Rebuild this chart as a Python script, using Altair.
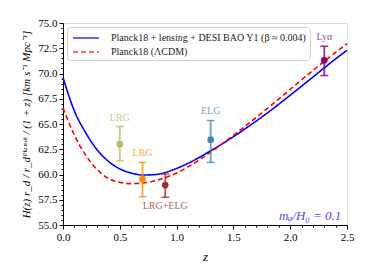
import altair as alt
import pandas as pd

# curve samples
z_curve = [0.0, 0.1, 0.2, 0.3, 0.4, 0.5, 0.6, 0.7, 0.8, 0.9, 1.0, 1.1, 1.2, 1.3, 1.4, 1.6, 1.8, 2.0, 2.2, 2.4, 2.5]
blue_vals = [69.6, 66.3, 64.13, 62.45, 61.3, 60.55, 60.15, 59.95, 59.98, 60.2, 60.6, 61.1, 61.7, 62.35, 63.02, 64.5, 66.1, 67.85, 69.65, 71.45, 72.3]
red_vals = [66.6, 63.9, 61.9, 60.5, 59.6, 59.22, 59.1, 59.15, 59.35, 59.68, 60.15, 60.75, 61.45, 62.22, 63.03, 64.75, 66.55, 68.43, 70.3, 72.1, 72.95]
series_names = ["Planck18 + lensing + DESI BAO Y1 (β ≈ 0.004)", "Planck18 (ΛCDM)"]

# DESI points
pt_z = [0.5, 0.7, 0.9, 1.3, 2.3]
pt_val = [63.0, 59.55, 58.95, 63.45, 71.3]
pt_lo = [61.35, 57.8, 57.75, 61.2, 69.8]
pt_hi = [64.75, 61.2, 60.05, 65.35, 72.7]
pt_label = ["LRG", "LRG", "LRG+ELG", "ELG", "Lyα"]
pt_color = ["#bdb76b", "#ff8c00", "#a52a2a", "#4a84b8", "#800080"]
pt_label_pos = ["above", "above", "below", "above", "above"]

annot_text = ["mᵩ/H₀ = 0.1"]
annot_z = [2.45]
annot_v = [55.9]

x_ticks = [round(0.1 * i, 1) for i in range(26)]
y_ticks = [55 + 0.5 * i for i in range(41)]

SERIF = "Liberation Serif"

curve_df = pd.DataFrame({
    "z": z_curve * 2,
    "v": blue_vals + red_vals,
    "s": [series_names[0]] * len(z_curve) + [series_names[1]] * len(z_curve),
})
pts_df = pd.DataFrame({
    "z": pt_z, "v": pt_val, "lo": pt_lo, "hi": pt_hi, "lab": pt_label,
    "c": pt_color, "pos": pt_label_pos,
})
pts_df["ly"] = [h if p == "above" else l for h, l, p in zip(pt_hi, pt_lo, pt_label_pos)]
ann_df = pd.DataFrame({"z": annot_z, "v": annot_v, "t": annot_text})

xmajor = "abs(datum.value/0.5 - round(datum.value/0.5)) < 0.001"
ymajor = "abs(datum.value/2.5 - round(datum.value/2.5)) < 0.001"

x_axis = alt.Axis(values=x_ticks, title="z", titleFont=SERIF, titleFontStyle="italic",
                  titleFontSize=13, titleFontWeight="normal", titlePadding=8,
                  labelExpr=f"{xmajor} ? format(datum.value, '.1f') : ''",
                  tickSize={"condition": {"test": f"!({xmajor})", "value": 2}, "value": 4},
                  labelFont=SERIF, labelFontSize=11, labelColor="black",
                  labelOverlap=False, labelFlush=False, grid=False,
                  domainColor="black", tickColor="black", labelPadding=2)
y_axis = alt.Axis(values=y_ticks,
                  title="H(z) r_d / r_dᴾˡᵃⁿᶜᵏ / (1 + z)  [km s⁻¹ Mpc⁻¹]",
                  titleFont=SERIF, titleFontSize=11, titleFontWeight="normal",
                  titleFontStyle="italic", titlePadding=6,
                  labelExpr=f"{ymajor} ? format(datum.value, '.1f') : ''",
                  tickSize={"condition": {"test": f"!({ymajor})", "value": 2}, "value": 4},
                  labelFont=SERIF, labelFontSize=11, labelColor="black",
                  labelOverlap=False, grid=False,
                  domainColor="black", tickColor="black", labelPadding=2)
x_scale = alt.Scale(domain=[0, 2.5], nice=False)
y_scale = alt.Scale(domain=[55, 75], nice=False)


def X(field):
    return alt.X(f"{field}:Q", scale=x_scale, axis=x_axis)


def Y(field):
    return alt.Y(f"{field}:Q", scale=y_scale, axis=y_axis)


leg = alt.Legend(title=None, orient="none", legendX=4, legendY=4,
                 symbolType="M-1.86,0H1.86", symbolSize=196, symbolStrokeWidth=1.6,
                 symbolOffset=8, labelOffset=17,
                 labelFont=SERIF, labelFontSize=10, labelColor="#222", labelLimit=0,
                 padding=3, rowPadding=1,
                 strokeColor="#d0d0d0", fillColor="white", cornerRadius=3)

lines = alt.Chart(curve_df).mark_line(strokeWidth=1.6, interpolate="monotone").encode(
    x=X("z"), y=Y("v"),
    color=alt.Color("s:N", scale=alt.Scale(domain=series_names, range=["#0000ff", "#ff0000"]), legend=leg),
    strokeDash=alt.StrokeDash("s:N", scale=alt.Scale(domain=series_names, range=[[1, 0], [5, 3]]), legend=leg),
    detail="s:N",
)

cnone = alt.Color("c:N", scale=None)
bars = alt.Chart(pts_df).mark_rule(strokeWidth=1.8, opacity=0.8).encode(
    x=X("z"), y=Y("lo"), y2="hi:Q", color=cnone)
caps_lo = alt.Chart(pts_df).mark_tick(orient="horizontal", size=8, thickness=1.5, opacity=0.8).encode(
    x=X("z"), y=Y("lo"), color=cnone)
caps_hi = alt.Chart(pts_df).mark_tick(orient="horizontal", size=8, thickness=1.5, opacity=0.8).encode(
    x=X("z"), y=Y("hi"), color=cnone)
dots = alt.Chart(pts_df).mark_circle(size=45, opacity=1).encode(
    x=X("z"), y=Y("v"), color=cnone)
labels_above = alt.Chart(pts_df).transform_filter("datum.pos == 'above'").mark_text(
    font=SERIF, fontSize=10, dy=-9, baseline="middle", opacity=0.75).encode(
    x=X("z"), y=Y("ly"), text="lab:N", color=cnone)
labels_below = alt.Chart(pts_df).transform_filter("datum.pos == 'below'").mark_text(
    font=SERIF, fontSize=10, dy=9, baseline="middle", opacity=0.75).encode(
    x=X("z"), y=Y("ly"), text="lab:N", color=cnone)
annot = alt.Chart(ann_df).mark_text(font=SERIF, fontSize=13, fontStyle="italic", align="right",
                                    baseline="middle", color="#4b4bf0").encode(
    x=X("z"), y=Y("v"), text="t:N")

chart = alt.layer(lines, bars, caps_lo, caps_hi, dots, labels_above, labels_below, annot).properties(
    width=284, height=202,
    autosize=alt.AutoSizeParams(type="none"),
    padding={"left": 55, "top": 15, "right": 12, "bottom": 40},
).configure_view(stroke="black", strokeWidth=1).configure(background="white")

chart.save("out.html", embed_options={"renderer": "svg", "actions": False})
